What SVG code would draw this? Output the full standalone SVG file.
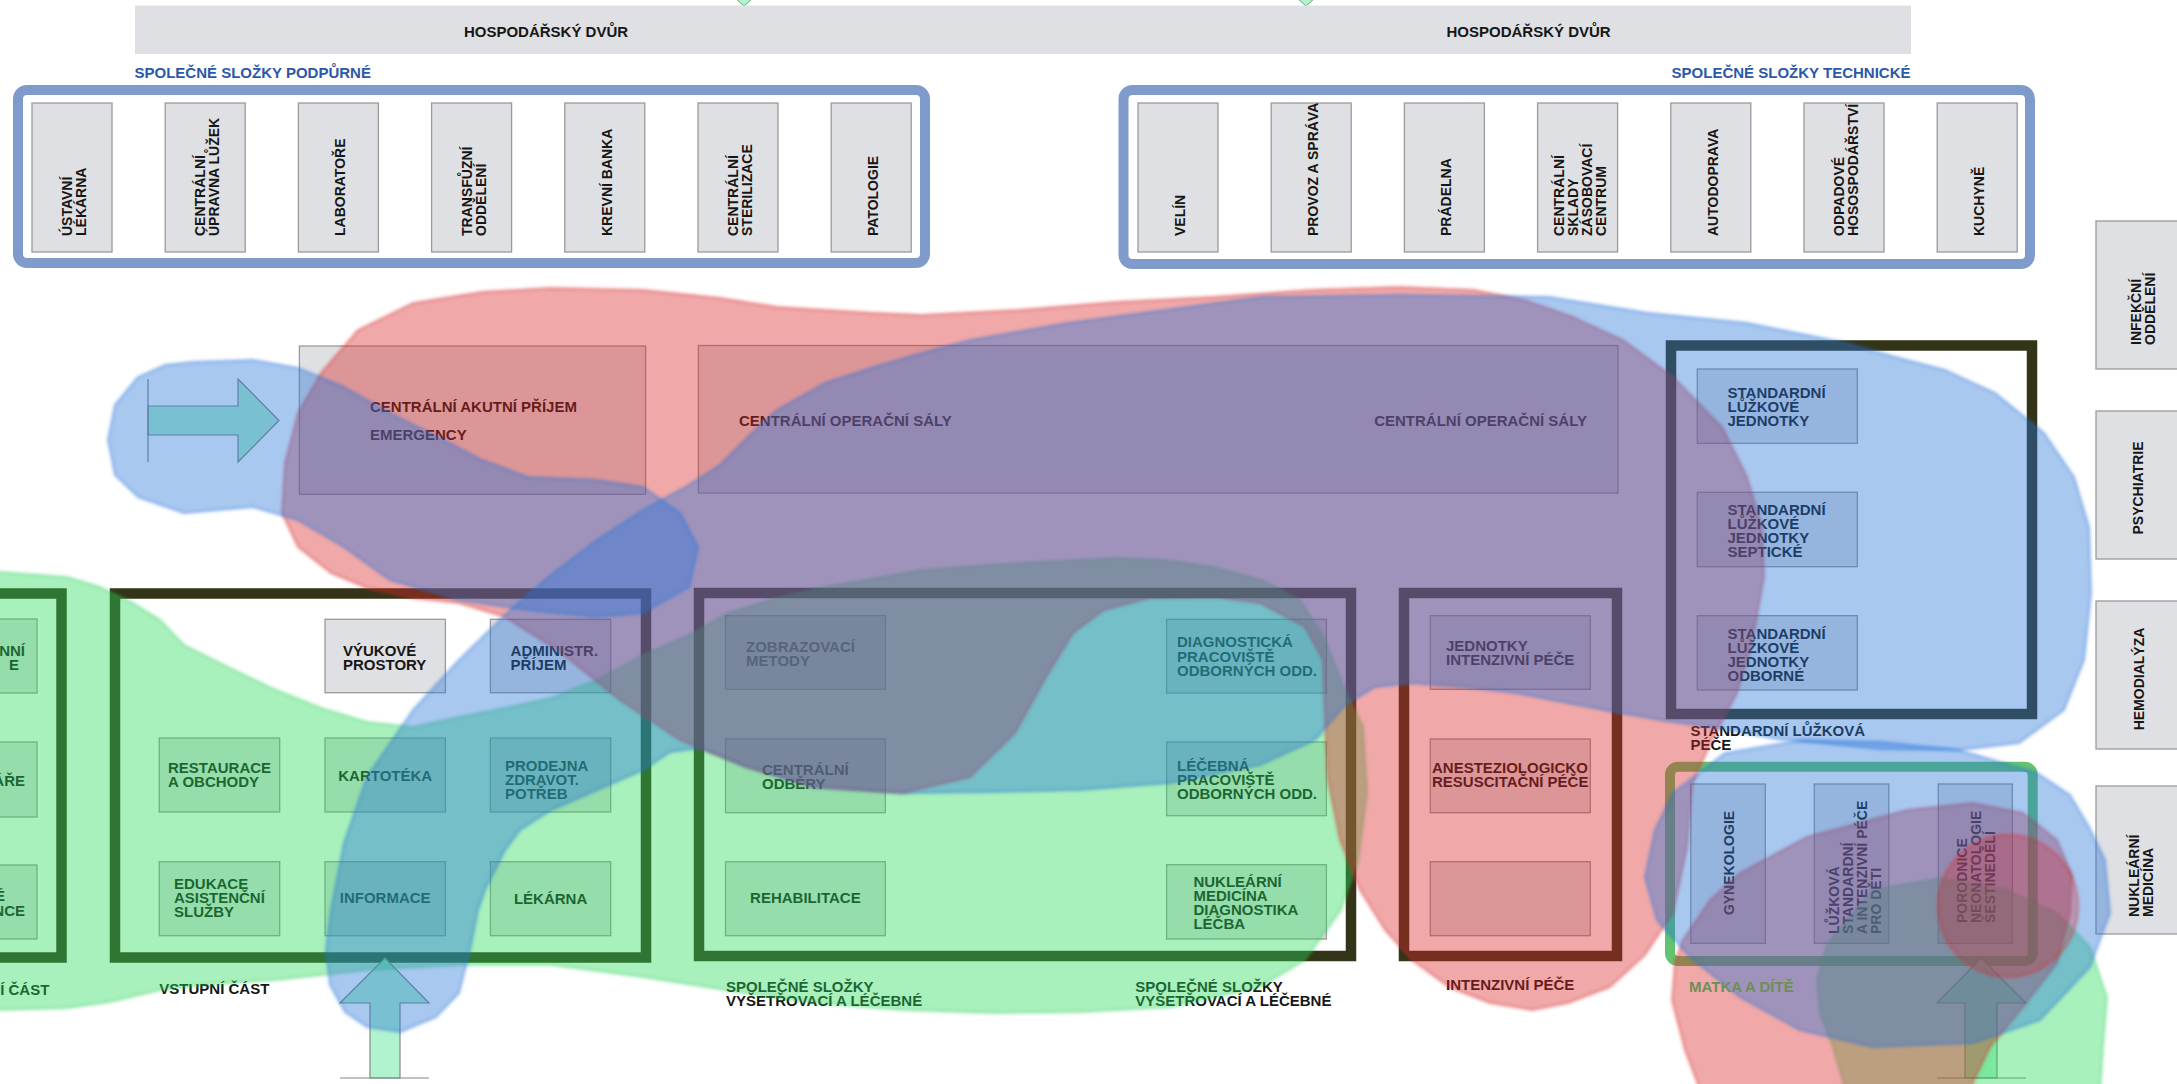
<svg xmlns="http://www.w3.org/2000/svg" width="2177" height="1084" viewBox="0 0 2177 1084">
<defs>
<style>
.bar{fill:#dfe0e3}
.cell{fill:#dfe0e3;stroke:#9a9a9a;stroke-width:1.3}
.frame{fill:none;stroke:#343418;stroke-width:10.5}
.sup{fill:none;stroke:#7f9bcb;stroke-width:10}
text{font-family:"Liberation Sans",Arial,sans-serif;font-weight:bold;fill:#161616}
.t{font-size:15px}
.r{font-size:14px}
.lbl{font-size:15px;fill:#2b58a8}
.arrow{fill:#b2f3cf;stroke:#7d8a86;stroke-width:1.2}
.bz{stroke-width:3;stroke-linejoin:round;filter:url(#soft)}
.zr{fill:rgb(217,37,37);fill-opacity:.4;stroke:rgb(215,40,40);stroke-opacity:.3}
.zg{fill:rgb(32,217,87);fill-opacity:.4;stroke:rgb(32,200,80);stroke-opacity:.25}
.zb{fill:rgb(37,117,217);fill-opacity:.4;stroke:rgb(37,110,215);stroke-opacity:.3}
</style>
<filter id="soft" x="-5%" y="-5%" width="110%" height="110%"><feGaussianBlur stdDeviation="1.6"/></filter>
</defs>
<rect width="2177" height="1084" fill="#ffffff"/>

<g id="hospodarsky-dvur">
<polygon points="735,-2 753,-2 744,6" fill="#b2f3cf" stroke="#6aa56a" stroke-width="1"/>
<polygon points="1297,-2 1315,-2 1306,6" fill="#b2f3cf" stroke="#6aa56a" stroke-width="1"/>
<rect class="bar" x="135" y="5.5" width="1776" height="48.5"/>
<text class="t" x="546" y="37" text-anchor="middle">HOSPODÁŘSKÝ DVŮR</text>
<text class="t" x="1528.6" y="37" text-anchor="middle">HOSPODÁŘSKÝ DVŮR</text>
</g>

<g id="spolecne-podpurne">
<text class="lbl" x="134.5" y="78">SPOLEČNÉ SLOŽKY PODPŮRNÉ</text>
<rect class="sup" x="18" y="90" width="907" height="173" rx="9"/>
<rect class="cell" x="32" y="103" width="80" height="149"/>
<rect class="cell" x="165.2" y="103" width="80" height="149"/>
<rect class="cell" x="298.4" y="103" width="80" height="149"/>
<rect class="cell" x="431.6" y="103" width="80" height="149"/>
<rect class="cell" x="564.8" y="103" width="80" height="149"/>
<rect class="cell" x="698" y="103" width="80" height="149"/>
<rect class="cell" x="831.2" y="103" width="80" height="149"/>
<text class="r" transform="translate(72,236) rotate(-90)"><tspan x="0" y="0">ÚSTAVNÍ</tspan><tspan x="0" y="14">LÉKÁRNA</tspan></text>
<text class="r" transform="translate(205,236) rotate(-90)"><tspan x="0" y="0">CENTRÁLNÍ</tspan><tspan x="0" y="14">ÚPRAVNA LŮŽEK</tspan></text>
<text class="r" transform="translate(345.4,236) rotate(-90)">LABORATOŘE</text>
<text class="r" transform="translate(471.6,236) rotate(-90)"><tspan x="0" y="0">TRANSFŮZNÍ</tspan><tspan x="0" y="14">ODDĚLENÍ</tspan></text>
<text class="r" transform="translate(611.8,236) rotate(-90)">KREVNÍ BANKA</text>
<text class="r" transform="translate(738,236) rotate(-90)"><tspan x="0" y="0">CENTRÁLNÍ</tspan><tspan x="0" y="14">STERILIZACE</tspan></text>
<text class="r" transform="translate(878.2,236) rotate(-90)">PATOLOGIE</text>
</g>

<g id="spolecne-technicke">
<text class="lbl" x="1910.5" y="78" text-anchor="end">SPOLEČNÉ SLOŽKY TECHNICKÉ</text>
<rect class="sup" x="1123.5" y="90" width="906.5" height="174" rx="9"/>
<rect class="cell" x="1138" y="103" width="80" height="149"/>
<rect class="cell" x="1271.2" y="103" width="80" height="149"/>
<rect class="cell" x="1404.4" y="103" width="80" height="149"/>
<rect class="cell" x="1537.6" y="103" width="80" height="149"/>
<rect class="cell" x="1670.8" y="103" width="80" height="149"/>
<rect class="cell" x="1804" y="103" width="80" height="149"/>
<rect class="cell" x="1937.2" y="103" width="80" height="149"/>
<text class="r" transform="translate(1185,236) rotate(-90)">VELÍN</text>
<text class="r" transform="translate(1318.2,236) rotate(-90)">PROVOZ A SPRÁVA</text>
<text class="r" transform="translate(1451.4,236) rotate(-90)">PRÁDELNA</text>
<text class="r" transform="translate(1563.6,236) rotate(-90)"><tspan x="0" y="0">CENTRÁLNÍ</tspan><tspan x="0" y="14">SKLADY</tspan><tspan x="0" y="28">ZÁSOBOVACÍ</tspan><tspan x="0" y="42">CENTRUM</tspan></text>
<text class="r" transform="translate(1717.8,236) rotate(-90)">AUTODOPRAVA</text>
<text class="r" transform="translate(1844,236) rotate(-90)"><tspan x="0" y="0">ODPADOVÉ</tspan><tspan x="0" y="14">HOSOSPODÁŘSTVÍ</tspan></text>
<text class="r" transform="translate(1984.2,236) rotate(-90)">KUCHYNĚ</text>
</g>

<g id="oddeleni-vpravo">
<rect class="cell" x="2096" y="221" width="82" height="148"/>
<rect class="cell" x="2096" y="411" width="82" height="148"/>
<rect class="cell" x="2096" y="601" width="82" height="148"/>
<rect class="cell" x="2096" y="786" width="82" height="148"/>
<text class="r" transform="translate(2141,345) rotate(-90)"><tspan x="0" y="0">INFEKČNÍ</tspan><tspan x="0" y="14">ODDĚLENÍ</tspan></text>
<text class="r" transform="translate(2143,488) rotate(-90)" text-anchor="middle">PSYCHIATRIE</text>
<text class="r" transform="translate(2144,679) rotate(-90)" text-anchor="middle">HEMODIALÝZA</text>
<text class="r" transform="translate(2139,917) rotate(-90)"><tspan x="0" y="0">NUKLEÁRNÍ</tspan><tspan x="0" y="14">MEDICÍNA</tspan></text>
</g>

<g id="akutni-prijem">
<rect class="cell" x="299.4" y="346" width="346.2" height="148.3"/>
<text class="t" x="370" y="412.3">CENTRÁLNÍ AKUTNÍ PŘÍJEM</text>
<text class="t" x="370" y="440">EMERGENCY</text>
</g>

<g id="operacni-saly">
<rect class="cell" x="698.4" y="345.5" width="919.6" height="147.5"/>
<text class="t" x="739" y="426">CENTRÁLNÍ OPERAČNÍ SÁLY</text>
<text class="t" x="1587" y="426" text-anchor="end">CENTRÁLNÍ OPERAČNÍ SÁLY</text>
</g>

<g id="cast-vlevo">
<rect class="frame" x="-300" y="593.5" width="361.5" height="364"/>
<rect class="cell" x="-100" y="619" width="137" height="74"/>
<rect class="cell" x="-100" y="742" width="137" height="75"/>
<rect class="cell" x="-100" y="865" width="137" height="74"/>
<text class="t" text-anchor="end"><tspan x="25" y="656">NNÍ</tspan><tspan x="19" y="670">E</tspan></text>
<text class="t" x="25" y="785.7" text-anchor="end">ÁŘE</text>
<text class="t" text-anchor="end"><tspan x="5" y="901">É</tspan><tspan x="25" y="915.5">NCE</tspan></text>
<text class="t" x="49.3" y="995" text-anchor="end">Í ČÁST</text>
</g>

<g id="vstupni-cast">
<rect class="frame" x="115" y="593.5" width="531" height="364"/>
<rect class="cell" x="325" y="619.3" width="120.4" height="73.4"/>
<rect class="cell" x="490.4" y="619.3" width="120.3" height="73.4"/>
<rect class="cell" x="159.3" y="738" width="120.4" height="74"/>
<rect class="cell" x="325" y="738" width="120.4" height="74"/>
<rect class="cell" x="490.4" y="738" width="120.3" height="74"/>
<rect class="cell" x="159.3" y="861.7" width="120.4" height="74"/>
<rect class="cell" x="325" y="861.7" width="120.4" height="74"/>
<rect class="cell" x="490.4" y="861.7" width="120.3" height="74"/>
<text class="t"><tspan x="343" y="656">VÝUKOVÉ</tspan><tspan x="343" y="670">PROSTORY</tspan></text>
<text class="t"><tspan x="510.6" y="656">ADMINISTR.</tspan><tspan x="510.6" y="670">PŘÍJEM</tspan></text>
<text class="t"><tspan x="168" y="773.3">RESTAURACE</tspan><tspan x="168" y="787.3">A OBCHODY</tspan></text>
<text class="t" x="385.2" y="780.7" text-anchor="middle">KARTOTÉKA</text>
<text class="t"><tspan x="505" y="770.7">PRODEJNA</tspan><tspan x="505" y="785">ZDRAVOT.</tspan><tspan x="505" y="799">POTŘEB</tspan></text>
<text class="t"><tspan x="174" y="889.3">EDUKACE</tspan><tspan x="174" y="903.3">ASISTENČNÍ</tspan><tspan x="174" y="917.3">SLUŽBY</tspan></text>
<text class="t" x="385.2" y="903.3" text-anchor="middle">INFORMACE</text>
<text class="t" x="550.6" y="904.3" text-anchor="middle">LÉKÁRNA</text>
<text class="t" x="159.3" y="994">VSTUPNÍ ČÁST</text>
</g>

<g id="vysetrovaci-lecebne">
<rect class="frame" x="699" y="593" width="652" height="363"/>
<rect class="cell" x="725.5" y="615.7" width="159.8" height="73.6"/>
<rect class="cell" x="725.5" y="739" width="159.8" height="73.7"/>
<rect class="cell" x="725.5" y="861.7" width="159.8" height="74"/>
<rect class="cell" x="1166.6" y="619.3" width="159.8" height="73.7"/>
<rect class="cell" x="1166.6" y="742" width="159.8" height="73.7"/>
<rect class="cell" x="1166.6" y="864.7" width="159.8" height="74.3"/>
<text class="t" style="fill:#3a3a3a"><tspan x="746" y="651.7">ZOBRAZOVACÍ</tspan><tspan x="746" y="665.7">METODY</tspan></text>
<text class="t"><tspan x="762" y="775">CENTRÁLNÍ</tspan><tspan x="762" y="789">ODBĚRY</tspan></text>
<text class="t" x="805.4" y="903.3" text-anchor="middle">REHABILITACE</text>
<text class="t"><tspan x="1177" y="647.3">DIAGNOSTICKÁ</tspan><tspan x="1177" y="661.5">PRACOVIŠTĚ</tspan><tspan x="1177" y="675.7">ODBORNÝCH ODD.</tspan></text>
<text class="t"><tspan x="1177" y="771">LÉČEBNÁ</tspan><tspan x="1177" y="785">PRACOVIŠTĚ</tspan><tspan x="1177" y="799">ODBORNÝCH ODD.</tspan></text>
<text class="t"><tspan x="1193.4" y="887.3">NUKLEÁRNÍ</tspan><tspan x="1193.4" y="901.3">MEDICÍNA</tspan><tspan x="1193.4" y="915.3">DIAGNOSTIKA</tspan><tspan x="1193.4" y="929.3">LÉČBA</tspan></text>
<text class="t"><tspan x="726" y="991.7">SPOLEČNÉ SLOŽKY</tspan><tspan x="726" y="1005.7">VYŠETŘOVACÍ A LÉČEBNÉ</tspan></text>
<text class="t"><tspan x="1135.3" y="991.7">SPOLEČNÉ SLOŽKY</tspan><tspan x="1135.3" y="1005.7">VYŠETŘOVACÍ A LÉČEBNÉ</tspan></text>
</g>

<g id="intenzivni-pece">
<rect class="frame" x="1404" y="593" width="213" height="363"/>
<rect class="cell" x="1430.3" y="615.7" width="160" height="73.6"/>
<rect class="cell" x="1430.3" y="739" width="160" height="73.7"/>
<rect class="cell" x="1430.3" y="861.7" width="160" height="74"/>
<text class="t"><tspan x="1446" y="650.7">JEDNOTKY</tspan><tspan x="1446" y="664.5">INTENZIVNÍ PÉČE</tspan></text>
<text class="t"><tspan x="1432" y="773.3">ANESTEZIOLOGICKO</tspan><tspan x="1432" y="787.3">RESUSCITAČNÍ PÉČE</tspan></text>
<text class="t" x="1446" y="990">INTENZIVNÍ PÉČE</text>
</g>

<g id="standardni-luzkova-pece">
<rect class="frame" x="1671" y="345.5" width="361" height="368.5"/>
<rect class="cell" x="1697.3" y="369" width="160" height="74.3"/>
<rect class="cell" x="1697.3" y="492.3" width="160" height="74.4"/>
<rect class="cell" x="1697.3" y="615.7" width="160" height="74.3"/>
<text class="t"><tspan x="1727.5" y="398.3">STANDARDNÍ</tspan><tspan x="1727.5" y="412.3">LŮŽKOVÉ</tspan><tspan x="1727.5" y="426.3">JEDNOTKY</tspan></text>
<text class="t"><tspan x="1727.5" y="515.3">STANDARDNÍ</tspan><tspan x="1727.5" y="529.3">LŮŽKOVÉ</tspan><tspan x="1727.5" y="543.3">JEDNOTKY</tspan><tspan x="1727.5" y="557.3">SEPTICKÉ</tspan></text>
<text class="t"><tspan x="1727.5" y="638.7">STANDARDNÍ</tspan><tspan x="1727.5" y="652.7">LŮŽKOVÉ</tspan><tspan x="1727.5" y="666.7">JEDNOTKY</tspan><tspan x="1727.5" y="680.7">ODBORNÉ</tspan></text>
<text class="t"><tspan x="1690.4" y="736">STANDARDNÍ LŮŽKOVÁ</tspan><tspan x="1690.4" y="750">PÉČE</tspan></text>
</g>

<g id="matka-a-dite">
<rect x="1670" y="766.7" width="362.7" height="194.3" rx="8" fill="none" stroke="#64c36e" stroke-width="10"/>
<rect class="cell" x="1690.8" y="784" width="74.5" height="159.3"/>
<rect class="cell" x="1814.3" y="784" width="74.5" height="159.3"/>
<rect class="cell" x="1938.3" y="784" width="74" height="159.3"/>
<text class="r" transform="translate(1734,863) rotate(-90)" text-anchor="middle">GYNEKOLOGIE</text>
<text class="r" transform="translate(1839,934) rotate(-90)"><tspan x="0" y="0">LŮŽKOVÁ</tspan><tspan x="0" y="14">STANDARDNÍ</tspan><tspan x="0" y="28">A INTENZIVNÍ PÉČE</tspan><tspan x="0" y="42">PRO DĚTI</tspan></text>
<text class="r" transform="translate(1967,923) rotate(-90)"><tspan x="0" y="0">PORODNICE</tspan><tspan x="0" y="14">NEONATOLOGIE</tspan><tspan x="0" y="28">ŠESTINEDĚLÍ</tspan></text>
</g>

<g id="connectors">
<polygon class="arrow" points="148,406 238,406 238,379 279,420.5 238,462 238,435 148,435"/>
<line x1="148" y1="379" x2="148" y2="462" stroke="#7d8a86" stroke-width="1.2"/>
<polygon class="arrow" points="370,1078 370,1003 340,1003 385,958 429,1003 400,1003 400,1078"/>
<line x1="340" y1="1078" x2="429" y2="1078" stroke="#7d8a86" stroke-width="1.2"/>
<polygon class="arrow" points="1965,1078 1965,1003 1937,1003 1981,958 2026,1003 1997,1003 1997,1078"/>
<line x1="1937" y1="1078" x2="2026" y2="1078" stroke="#7d8a86" stroke-width="1.2"/>
</g>

<g id="zones">
<path class="bz zg" d="M-20,570 L0,572 L67,577 L100,587 L133,603 L160,620 L184,645 L230,668 L276,690 L321,708 L367,722 L413,727 L459,717 L505,708 L551,698 L597,680 L643,655 L689,635 L728,613 L777,598 L825,587 L922,570 L1019,563 L1116,558 L1165,560 L1213,567 L1262,580 L1300,600 L1325,640 L1345,690 L1363,727 L1367,793 L1358,860 L1341,910 L1305,960 L1260,987 L1171,1007 L1082,1012 L992,1013 L903,1010 L814,1003 L725,990 L643,977 L551,965 L460,965 L367,970 L276,980 L200,985 L160,990 L110,1002 L67,1008 L0,1010 L-20,1010 Z"/>
<path class="bz zg" d="M1847,1095 L1833,1047 L1820,1013 L1817,980 L1827,945 L1873,890 L1940,878 L2007,890 L2057,913 L2090,947 L2107,997 L2103,1047 L2100,1095 Z"/>
<path class="bz zr" d="M282,513 L285,463 L298,413 L321,373 L358,330 L413,303 L482,292 L551,288 L643,290 L720,298 L777,307 L874,313 L922,315 L1019,310 L1116,302 L1213,297 L1310,290 L1400,287 L1474,290 L1524,300 L1573,317 L1623,340 L1673,377 L1722,427 L1747,477 L1762,527 L1764,577 L1752,643 L1737,693 L1712,740 L1692,785 L1687,847 L1673,913 L1645,955 L1610,987 L1568,1003 L1532,1010 L1490,1003 L1449,987 L1412,960 L1385,930 L1360,890 L1340,840 L1328,780 L1325,720 L1323,660 L1305,627 L1260,603 L1216,597 L1149,598 L1104,610 L1073,633 L1046,677 L1015,733 L970,777 L903,793 L814,787 L747,767 L680,740 L620,700 L560,652 L505,617 L459,603 L413,598 L367,588 L331,573 L298,547 Z"/>
<path class="bz zr" d="M1672,1000 L1675,962 L1683,940 L1710,900 L1740,873 L1807,837 L1907,810 L1973,803 L2023,813 L2057,840 L2072,875 L2070,913 L2057,963 L2023,1007 L1990,1047 L1967,1095 L1702,1095 L1685,1050 Z"/>
<path class="bz zb" d="M367,1027 L345,1012 L330,985 L326,950 L331,910 L344,843 L367,777 L413,710 L459,660 L505,615 L551,575 L597,540 L643,510 L689,485 L720,465 L750,435 L777,410 L825,383 L874,367 L922,353 L971,340 L1068,323 L1165,310 L1262,297 L1400,295 L1549,297 L1648,313 L1747,323 L1846,343 L1895,357 L1945,370 L1995,393 L2044,433 L2074,477 L2089,527 L2091,593 L2084,660 L2064,710 L2019,743 L1960,750 L1881,749 L1777,739 L1725,729 L1673,722 L1620,713 L1568,703 L1516,693 L1464,687 L1412,683 L1375,687 L1345,705 L1315,740 L1260,765 L1170,783 L1080,790 L990,792 L903,793 L814,787 L747,767 L700,748 L670,752 L643,770 L597,790 L551,810 L520,830 L505,850 L485,890 L478,910 L470,950 L459,993 L436,1017 L400,1032 Z"/>
<path class="bz zb" d="M108,440 L115,405 L138,377 L165,365 L193,362 L253,360 L298,368 L344,387 L390,413 L436,436 L482,460 L528,477 L597,480 L643,487 L680,513 L698,547 L689,587 L643,613 L597,617 L528,610 L459,600 L390,580 L344,547 L298,520 L253,507 L184,513 L138,497 L115,475 Z"/>
<path class="bz zb" d="M1645,877 L1655,830 L1673,793 L1725,753 L1803,740 L1881,742 L1959,750 L2037,773 L2070,795 L2089,827 L2105,860 L2110,913 L2090,967 L2040,1020 L1973,1043 L1873,1047 L1800,1030 L1740,997 L1690,957 L1657,920 Z"/>
<ellipse class="bz zr" style="fill-opacity:.28" cx="2008" cy="906" rx="70" ry="71"/>
</g>

<g id="matka-label">
<text class="t" x="1689" y="991.5" style="fill:#6e8e55">MATKA A DÍTĚ</text>
</g>
</svg>
